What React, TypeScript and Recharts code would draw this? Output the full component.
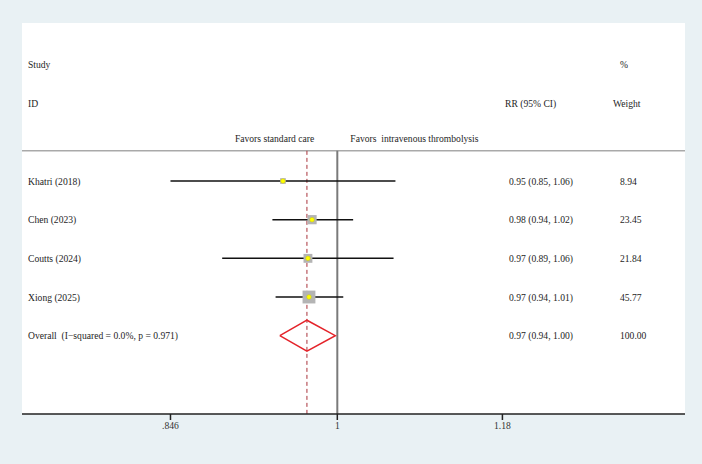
import {
  CartesianGrid, ErrorBar, ReferenceLine, Scatter, ScatterChart, XAxis, YAxis,
} from 'recharts'

const FONT = "'Liberation Serif', 'Times New Roman', Times, serif"
const INK = '#1e1e1e'

// studies (one row each, first study sits on row 3)
const studies = ['Khatri (2018)', 'Chen (2023)', 'Coutts (2024)', 'Xiong (2025)']
const rr      = [0.947, 0.975, 0.971, 0.972]
const lower   = [0.846, 0.937, 0.891, 0.940]
const upper   = [1.060, 1.016, 1.058, 1.006]
const rrText  = ['0.95 (0.85, 1.06)', '0.98 (0.94, 1.02)', '0.97 (0.89, 1.06)', '0.97 (0.94, 1.01)']
const weights = [8.94, 23.45, 21.84, 45.77]

// pooled estimate
const overallLabel  = 'Overall  (I\u2212squared = 0.0%, p = 0.971)'
const overallRR     = 0.970
const overallLower  = 0.944
const overallUpper  = 0.998
const overallText   = '0.97 (0.94, 1.00)'
const overallWeight = '100.00'

// axis
const xTicks     = [0.846, 1, 1.18]
const xTickLabel = ['.846', '1', '1.18']

const FIRST_ROW = 3
const DIVIDER_ROW = 2.22
const Y_DOMAIN: [number, number] = [-1.086, 9.025]

const studyRows = studies.map((name, i) => ({
  x: rr[i],
  y: FIRST_ROW + i,
  w: weights[i],
  err: [rr[i] - lower[i], upper[i] - rr[i]],
}))

const overallRow = FIRST_ROW + studies.length
const diamond = [
  { x: overallLower, y: overallRow },
  { x: overallRR, y: overallRow - 0.4 },
  { x: overallUpper, y: overallRow },
  { x: overallRR, y: overallRow + 0.4 },
  { x: overallLower, y: overallRow },
]

const textRows = [
  ...studies.map((name, i) => ({ x: 1, y: FIRST_ROW + i, name, ci: rrText[i], wt: weights[i].toFixed(2) })),
  { x: 1, y: overallRow, name: overallLabel, ci: overallText, wt: overallWeight },
]

const headerRows = [
  { x: 1, y: 0, name: 'Study', ci: '', wt: '%' },
  { x: 1, y: 1, name: 'ID', ci: 'RR (95% CI)', wt: 'Weight' },
]

const txtStyle = { fontFamily: FONT, fontSize: 9.6, fill: INK, whiteSpace: 'pre' as const }

function RowText(props: any) {
  const { cy, payload } = props
  return (
    <g>
      <text x={28} y={cy} dominantBaseline="central" style={txtStyle}>{payload.name}</text>
      <text x={payload.ci === 'RR (95% CI)' ? 505 : 509} y={cy} dominantBaseline="central" style={txtStyle}>{payload.ci}</text>
      <text x={payload.wt === 'Weight' ? 613 : 620} y={cy} dominantBaseline="central" style={txtStyle}>{payload.wt}</text>
    </g>
  )
}

function FavorsText(props: any) {
  const { cx, cy } = props
  return (
    <g>
      <text x={cx - 23} y={cy} textAnchor="end" dominantBaseline="central" style={txtStyle}>Favors standard care</text>
      <text x={cx + 13} y={cy} dominantBaseline="central" style={txtStyle}>Favors  intravenous thrombolysis</text>
    </g>
  )
}

function WeightBox(props: any) {
  const { cx, cy, payload } = props
  const side = 1.9 * Math.sqrt(payload.w)
  return (
    <g>
      <rect x={cx - side / 2} y={cy - side / 2} width={side} height={side} fill="#b4b4b4" />
      <circle cx={cx} cy={cy} r={2.3} fill="#ffff00" stroke="#c9c21a" strokeWidth={0.5} />
    </g>
  )
}

function AxisTick(props: any) {
  const { x, y, payload } = props
  const top = y - 8
  return (
    <g>
      <rect x={x - 0.75} y={top} width={1.5} height={6} fill="#222" />
      <text x={x} y={top + 15} textAnchor="middle" style={{ fontFamily: FONT, fontSize: 9.6, fill: '#333' }}>
        {xTickLabel[xTicks.indexOf(payload.value)] ?? String(payload.value)}
      </text>
    </g>
  )
}

export default function App() {
  return (
    <div style={{ position: 'absolute', left: 0, top: 0, width: 702, height: 464, background: '#e9f1f4' }}>
      <ScatterChart width={702} height={464} margin={{ top: 23, right: 17, bottom: 0, left: 22 }}>
        <CartesianGrid horizontal={false} vertical={false} fill="#ffffff" stroke="none" />
        <XAxis
          type="number"
          dataKey="x"
          scale="log"
          domain={[0.729, 1.417]}
          allowDataOverflow
          ticks={xTicks}
          height={50}
          tickSize={6}
          tickMargin={2}
          axisLine={{ stroke: '#222', strokeWidth: 1.5 }}
          tickLine={false}
          tick={AxisTick}
        />
        <YAxis type="number" dataKey="y" domain={Y_DOMAIN} allowDataOverflow reversed hide />

        <ReferenceLine y={DIVIDER_ROW} stroke="#a9a9a9" strokeWidth={1.5} />
        <ReferenceLine
          segment={[{ x: 1, y: DIVIDER_ROW }, { x: 1, y: Y_DOMAIN[1] }]}
          stroke="#7a7a7a"
          strokeWidth={2}
        />
        <ReferenceLine
          segment={[{ x: overallRR, y: DIVIDER_ROW }, { x: overallRR, y: Y_DOMAIN[1] }]}
          stroke="#a8323a"
          strokeWidth={1}
          strokeDasharray="4 3"
        />

        <Scatter data={headerRows} shape={RowText} isAnimationActive={false} />
        <Scatter data={[{ x: 1, y: 1.9 }]} shape={FavorsText} isAnimationActive={false} />
        <Scatter data={textRows} shape={RowText} isAnimationActive={false} />

        <Scatter data={studyRows} shape={WeightBox} isAnimationActive={false}>
          <ErrorBar dataKey="err" direction="x" width={0} stroke="#111" strokeWidth={1.5} />
        </Scatter>

        <Scatter
          data={diamond}
          line={{ stroke: '#e4232a', strokeWidth: 1.5 }}
          lineType="joint"
          shape={() => <g />}
          isAnimationActive={false}
        />
      </ScatterChart>
    </div>
  )
}
